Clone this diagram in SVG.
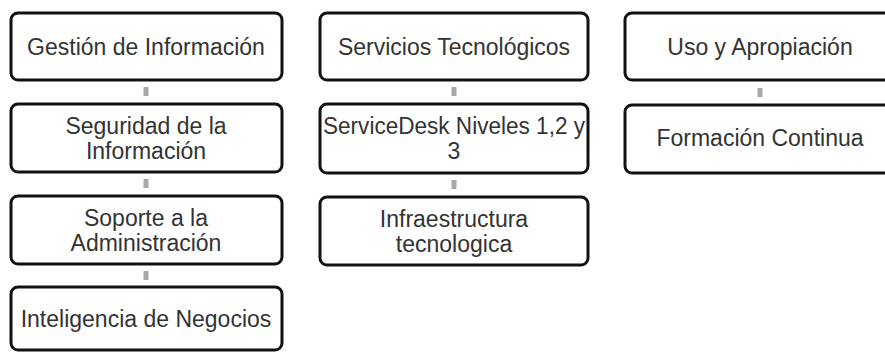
<svg xmlns="http://www.w3.org/2000/svg" width="885" height="353" viewBox="0 0 885 353">
<style>
.box{fill:#fff;stroke:#111;stroke-width:3}
.t{font-family:"Liberation Sans",Arial,sans-serif;font-size:23px;fill:#333;text-anchor:middle}
.c{stroke:#a8a8a8;stroke-width:5;stroke-linecap:butt}
</style>
<rect width="885" height="353" fill="#fff"/>
<g id="connectors">
<line class="c" x1="146" y1="87" x2="146" y2="96"/>
<line class="c" x1="146" y1="179" x2="146" y2="188"/>
<line class="c" x1="146" y1="271" x2="146" y2="280"/>
<line class="c" x1="454" y1="87" x2="454" y2="96"/>
<line class="c" x1="454" y1="180" x2="454" y2="189"/>
<line class="c" x1="760" y1="88" x2="760" y2="97"/>
</g>
<g id="gestion"><rect class="box" x="11" y="13" width="271" height="67" rx="7"/><text class="t" x="146" y="55">Gestión de Información</text></g>
<g id="seguridad"><rect class="box" x="11" y="104" width="271" height="68" rx="7"/><text class="t" x="146" y="134">Seguridad de la</text><text class="t" x="146" y="159">Información</text></g>
<g id="soporte"><rect class="box" x="11" y="196" width="271" height="68" rx="7"/><text class="t" x="146" y="226">Soporte a la</text><text class="t" x="146" y="251">Administración</text></g>
<g id="inteligencia"><rect class="box" x="11" y="287" width="271" height="63" rx="7"/><text class="t" x="146" y="327">Inteligencia de Negocios</text></g>
<g id="servicios"><rect class="box" x="320" y="13" width="268" height="67" rx="7"/><text class="t" x="454" y="55">Servicios Tecnológicos</text></g>
<g id="servicedesk"><rect class="box" x="320" y="104" width="268" height="69" rx="7"/><text class="t" x="454" y="134" textLength="262" lengthAdjust="spacingAndGlyphs">ServiceDesk Niveles 1,2 y</text><text class="t" x="454" y="159">3</text></g>
<g id="infraestructura"><rect class="box" x="320" y="197" width="268" height="68" rx="7"/><text class="t" x="454" y="227">Infraestructura</text><text class="t" x="454" y="252">tecnologica</text></g>
<g id="uso"><rect class="box" x="625" y="13" width="270" height="67" rx="7"/><text class="t" x="760" y="55">Uso y Apropiación</text></g>
<g id="formacion"><rect class="box" x="625" y="105" width="270" height="68" rx="7"/><text class="t" x="760" y="146">Formación Continua</text></g>
</svg>
